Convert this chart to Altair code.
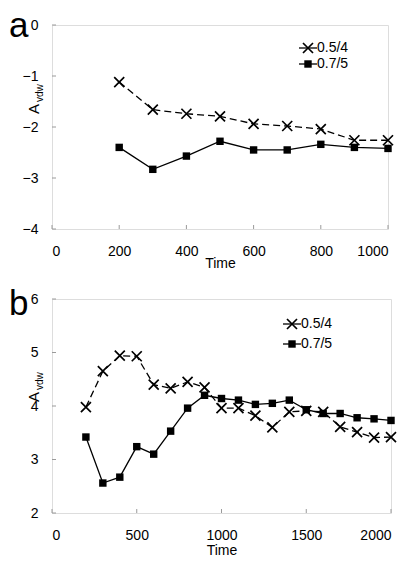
import altair as alt
import pandas as pd

# ---- data ----
times_a = [200, 300, 400, 500, 600, 700, 800, 900, 1000]
cross_a = [-1.12, -1.66, -1.74, -1.79, -1.94, -1.98, -2.04, -2.26, -2.26]
square_a = [-2.40, -2.83, -2.57, -2.28, -2.45, -2.45, -2.34, -2.40, -2.42]

times_b = [200, 300, 400, 500, 600, 700, 800, 900, 1000, 1100, 1200, 1300,
           1400, 1500, 1600, 1700, 1800, 1900, 2000]
cross_b = [3.98, 4.65, 4.94, 4.93, 4.40, 4.33, 4.45, 4.35, 3.96, 3.96, 3.82,
           3.60, 3.89, 3.91, 3.89, 3.61, 3.51, 3.41, 3.42]
square_b = [3.42, 2.56, 2.67, 3.24, 3.10, 3.53, 3.96, 4.20, 4.14, 4.11, 4.03,
            4.05, 4.11, 3.93, 3.86, 3.86, 3.78, 3.76, 3.73]

series_names = ["0.5/4", "0.7/5"]

xticks_a = [0, 200, 400, 600, 800, 1000]
yticks_a = [-4, -3, -2, -1, 0]
xticks_b = [0, 500, 1000, 1500, 2000]
yticks_b = [2, 3, 4, 5, 6]

FONT = "Liberation Sans"
XSHAPE = "M-1,-1L1,1M-1,1L1,-1"
one = pd.DataFrame({"k": [0]})


def panel(times, cross, square, xdom, ydom, xticks, yticks, w, h, letter,
          letter_x, letter_y, leg_x0, leg_rows, ytitle_y, title_y):
    df = pd.DataFrame({
        "t": times * 2,
        "v": cross + square,
        "s": [series_names[0]] * len(times) + [series_names[1]] * len(times),
    })
    xs = alt.Scale(domain=xdom, nice=False, zero=False)
    ys = alt.Scale(domain=ydom, nice=False, zero=False)
    X = alt.X("t:Q", scale=xs, axis=alt.Axis(
        values=xticks, format="d", tickSize=0, grid=False, domain=False,
        labelPadding=15, labelFontSize=14, labelColor="black", labelFont=FONT,
        title="Time", titleFontSize=14, titleFont=FONT,
        titleFontWeight="normal", titleBaseline="alphabetic", titleY=title_y,
        titleColor="black"))
    Y = alt.Y("v:Q", scale=ys, axis=alt.Axis(
        values=yticks, format="d", tickSize=0, grid=False, domain=False,
        labelPadding=14, labelFontSize=14, labelColor="black", labelFont=FONT,
        title=None))

    base = alt.Chart(df)
    l1 = base.transform_filter(alt.datum.s == series_names[0]).mark_line(
        color="black", strokeWidth=1.3, strokeDash=[7, 4]).encode(x=X, y=Y)
    l2 = base.transform_filter(alt.datum.s == series_names[1]).mark_line(
        color="black", strokeWidth=1.3).encode(x=X, y=Y)
    p1 = base.transform_filter(alt.datum.s == series_names[0]).mark_point(
        shape=XSHAPE, size=100, filled=False, color="black", strokeWidth=1.7,
        opacity=1).encode(x=X, y=Y)
    p2 = base.transform_filter(alt.datum.s == series_names[1]).mark_point(
        shape="square", size=55, filled=True, color="black",
        opacity=1).encode(x=X, y=Y)

    # inward ticks
    xt = alt.Chart(pd.DataFrame({"t": xticks})).mark_rule(
        color="#9a9a9a", strokeWidth=1).encode(
        x=alt.X("t:Q", scale=xs), y=alt.value(h), y2=alt.value(h - 4))
    yt = alt.Chart(pd.DataFrame({"v": yticks})).mark_rule(
        color="#9a9a9a", strokeWidth=1).encode(
        y=alt.Y("v:Q", scale=ys), x=alt.value(0), x2=alt.value(4))

    lab = alt.Chart(one).mark_text(
        text=letter, fontSize=35, font=FONT, align="left",
        baseline="top", color="black").encode(
        x=alt.value(letter_x), y=alt.value(letter_y))

    tA = alt.Chart(one).mark_text(
        text="A", fontSize=15, font=FONT, angle=270, align="left",
        baseline="alphabetic", color="black").encode(
        x=alt.value(-13), y=alt.value(ytitle_y))
    tsub = alt.Chart(one).mark_text(
        text="vdw", fontSize=10, font=FONT, angle=270, align="left",
        baseline="alphabetic", color="black").encode(
        x=alt.value(-9), y=alt.value(ytitle_y - 12))

    leg = []
    for i, name in enumerate(series_names):
        yy = leg_rows[i]
        leg.append(alt.Chart(one).mark_rule(color="black", strokeWidth=1.3).encode(
            x=alt.value(leg_x0), x2=alt.value(leg_x0 + 18), y=alt.value(yy)))
        if i == 0:
            leg.append(alt.Chart(one).mark_point(
                shape=XSHAPE, size=100, filled=False, color="black",
                strokeWidth=1.7, opacity=1).encode(
                x=alt.value(leg_x0 + 9), y=alt.value(yy)))
        else:
            leg.append(alt.Chart(one).mark_point(
                shape="square", size=55, filled=True, color="black",
                opacity=1).encode(x=alt.value(leg_x0 + 9), y=alt.value(yy)))
        leg.append(alt.Chart(one).mark_text(
            text=name, fontSize=14, font=FONT, align="left", baseline="middle",
            color="black").encode(x=alt.value(leg_x0 + 18), y=alt.value(yy)))

    return alt.layer(xt, yt, l1, l2, p1, p2, lab, tA, tsub, *leg).properties(
        width=w, height=h)


pa = panel(times_a, cross_a, square_a, [0, 1000], [-4, 0], xticks_a, yticks_a,
           336, 204, "a", -43, -16, 247, [23, 39], 89, 38)
pb = panel(times_b, cross_b, square_b, [0, 2000], [2, 6], xticks_b, yticks_b,
           339, 214, "b", -43, -12, 231, [25, 45], 103, 41)

chart = alt.vconcat(pa, pb, spacing=15).properties(
    padding={"left": 0, "top": 0, "right": 0, "bottom": 0}
).configure_view(stroke="#9a9a9a", strokeWidth=1).configure(background="white")

chart.save("out.html", embed_options={"renderer": "svg", "actions": False})
